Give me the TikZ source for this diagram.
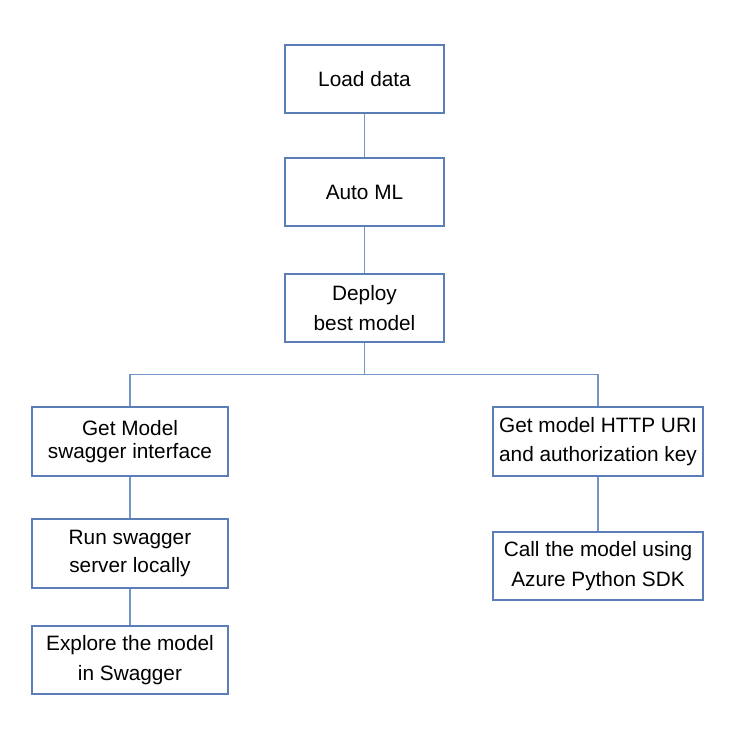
\documentclass[tikz,border=0pt]{standalone}
\usepackage{fontspec}
\setmainfont{Liberation Sans}
\definecolor{boxc}{HTML}{5B7DB8}
\definecolor{linec}{HTML}{7395C9}
\begin{document}
\begin{tikzpicture}[x=1pt,y=-1pt,
  box/.style={draw=boxc,line width=1.1pt,rectangle,inner sep=0pt,align=center,
    font=\fontsize{20.8}{29.5}\selectfont,text=black},
  conn/.style={draw=linec,line width=1.1pt}]
\useasboundingbox (0,0) rectangle (742,735);
\node[box,minimum width=159pt,minimum height=68pt] (load) at (364.5,79) {Load data};
\node[box,minimum width=159pt,minimum height=68pt] (auto) at (364.5,192) {Auto ML};
\node[box,minimum width=159pt,minimum height=68pt] (deploy) at (364.5,308) {Deploy\\best model};
\node[box,minimum width=196pt,minimum height=69pt,font=\fontsize{20.8}{23}\selectfont] (swag) at (130,441.5) {Get Model\\swagger interface};
\node[box,minimum width=196pt,minimum height=69pt] (run) at (130,553.5) {\raisebox{-3pt}{\shortstack{Run swagger\\[6pt]server locally}}};
\node[box,minimum width=196pt,minimum height=68pt] (expl) at (130,660) {Explore the model\\ in Swagger};
\node[box,minimum width=210pt,minimum height=69pt] (uri) at (598,441.5) {Get model HTTP URI\\ and authorization key};
\node[box,minimum width=210pt,minimum height=68pt] (call) at (598,566) {Call the model using\\Azure Python SDK};
\coordinate (br) at (364.5,374.5);
\draw[conn] (load) -- (auto);
\draw[conn] (auto) -- (deploy);
\draw[conn] (deploy.south) -- (br) -| (swag.north);
\draw[conn] (br) -| (uri.north);
\draw[conn] (swag) -- (run);
\draw[conn] (run) -- (expl);
\draw[conn] (uri) -- (call);
\end{tikzpicture}
\end{document}
